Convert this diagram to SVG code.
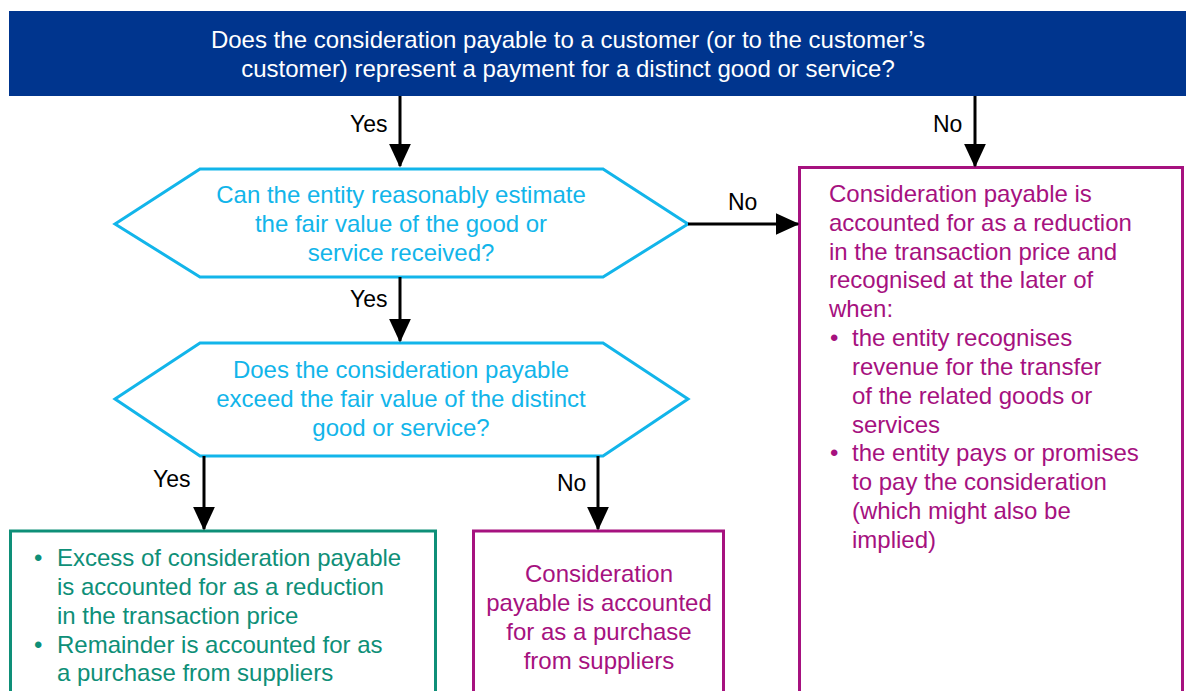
<svg xmlns="http://www.w3.org/2000/svg" width="1190" height="691" viewBox="0 0 1190 691">
<defs>
<marker id="ah" markerWidth="8" markerHeight="8" refX="7.5" refY="4" orient="auto" markerUnits="strokeWidth">
<path d="M0,0.3 L8,4 L0,7.7 Z" fill="#000"/>
</marker>
<style>
text{font-family:"Liberation Sans",Arial,sans-serif;font-size:24px}
.lbl{fill:#000;font-size:23px}
.w{fill:#fff}
.c{fill:#12b5ea}
.p{fill:#a6117f}
.g{fill:#0e8f78}
.hex{fill:#fff;stroke:#12b5ea;stroke-width:3}
.line{stroke:#000;stroke-width:3;fill:none;marker-end:url(#ah)}
</style>
</defs>
<rect width="1190" height="691" fill="#fff"/>
<g id="n_top">
<rect x="9" y="11" width="1177" height="85" fill="#00358e"/>
<text class="w" x="568" y="48" text-anchor="middle">Does the consideration payable to a customer (or to the customer’s</text>
<text class="w" x="568" y="77" text-anchor="middle">customer) represent a payment for a distinct good or service?</text>
</g>
<g id="n_estimate">
<polygon class="hex" points="115,224 200,169 603,169 688,224 603,277 200,277"/>
<text class="c" x="401" y="203" text-anchor="middle">Can the entity reasonably estimate</text>
<text class="c" x="401" y="232" text-anchor="middle">the fair value of the good or</text>
<text class="c" x="401" y="261" text-anchor="middle">service received?</text>
</g>
<g id="n_exceed">
<polygon class="hex" points="115,399 200,343 603,343 688,399 603,456 200,456"/>
<text class="c" x="401" y="378" text-anchor="middle">Does the consideration payable</text>
<text class="c" x="401" y="407" text-anchor="middle">exceed the fair value of the distinct</text>
<text class="c" x="401" y="436" text-anchor="middle">good or service?</text>
</g>
<g id="n_excess">
<rect x="10.5" y="531" width="425" height="175" fill="#fff" stroke="#0e8f78" stroke-width="3"/>
<text class="g" x="34" y="566">•</text>
<text class="g" x="57" y="566">Excess of consideration payable</text>
<text class="g" x="57" y="595">is accounted for as a reduction</text>
<text class="g" x="57" y="624">in the transaction price</text>
<text class="g" x="34" y="653">•</text>
<text class="g" x="57" y="653">Remainder is accounted for as</text>
<text class="g" x="57" y="681">a purchase from suppliers</text>
</g>
<g id="n_purchase">
<rect x="473.5" y="531" width="250" height="175" fill="#fff" stroke="#a6117f" stroke-width="3"/>
<text class="p" x="599" y="582" text-anchor="middle">Consideration</text>
<text class="p" x="599" y="611" text-anchor="middle">payable is accounted</text>
<text class="p" x="599" y="640" text-anchor="middle">for as a purchase</text>
<text class="p" x="599" y="669" text-anchor="middle">from suppliers</text>
</g>
<g id="n_reduction">
<rect x="799.5" y="167.5" width="383" height="540" fill="#fff" stroke="#a6117f" stroke-width="3"/>
<text class="p" x="829" y="202">Consideration payable is</text>
<text class="p" x="829" y="231">accounted for as a reduction</text>
<text class="p" x="829" y="260">in the transaction price and</text>
<text class="p" x="829" y="288">recognised at the later of</text>
<text class="p" x="829" y="317">when:</text>
<text class="p" x="830" y="346">•</text>
<text class="p" x="852" y="346">the entity recognises</text>
<text class="p" x="852" y="375">revenue for the transfer</text>
<text class="p" x="852" y="404">of the related goods or</text>
<text class="p" x="852" y="433">services</text>
<text class="p" x="830" y="461">•</text>
<text class="p" x="852" y="461">the entity pays or promises</text>
<text class="p" x="852" y="490">to pay the consideration</text>
<text class="p" x="852" y="519">(which might also be</text>
<text class="p" x="852" y="548">implied)</text>
</g>
<g id="connectors">
<line class="line" x1="400" y1="96" x2="400" y2="166"/>
<text class="lbl" x="350" y="132">Yes</text>
<line class="line" x1="975" y1="96" x2="975" y2="166"/>
<text class="lbl" x="933" y="132">No</text>
<line class="line" x1="688" y1="224" x2="798" y2="224"/>
<text class="lbl" x="728" y="210">No</text>
<line class="line" x1="400" y1="277" x2="400" y2="341"/>
<text class="lbl" x="350" y="307">Yes</text>
<line class="line" x1="204" y1="456" x2="204" y2="529"/>
<text class="lbl" x="153" y="487">Yes</text>
<line class="line" x1="598" y1="456" x2="598" y2="529"/>
<text class="lbl" x="557" y="491">No</text>
</g>
</svg>
